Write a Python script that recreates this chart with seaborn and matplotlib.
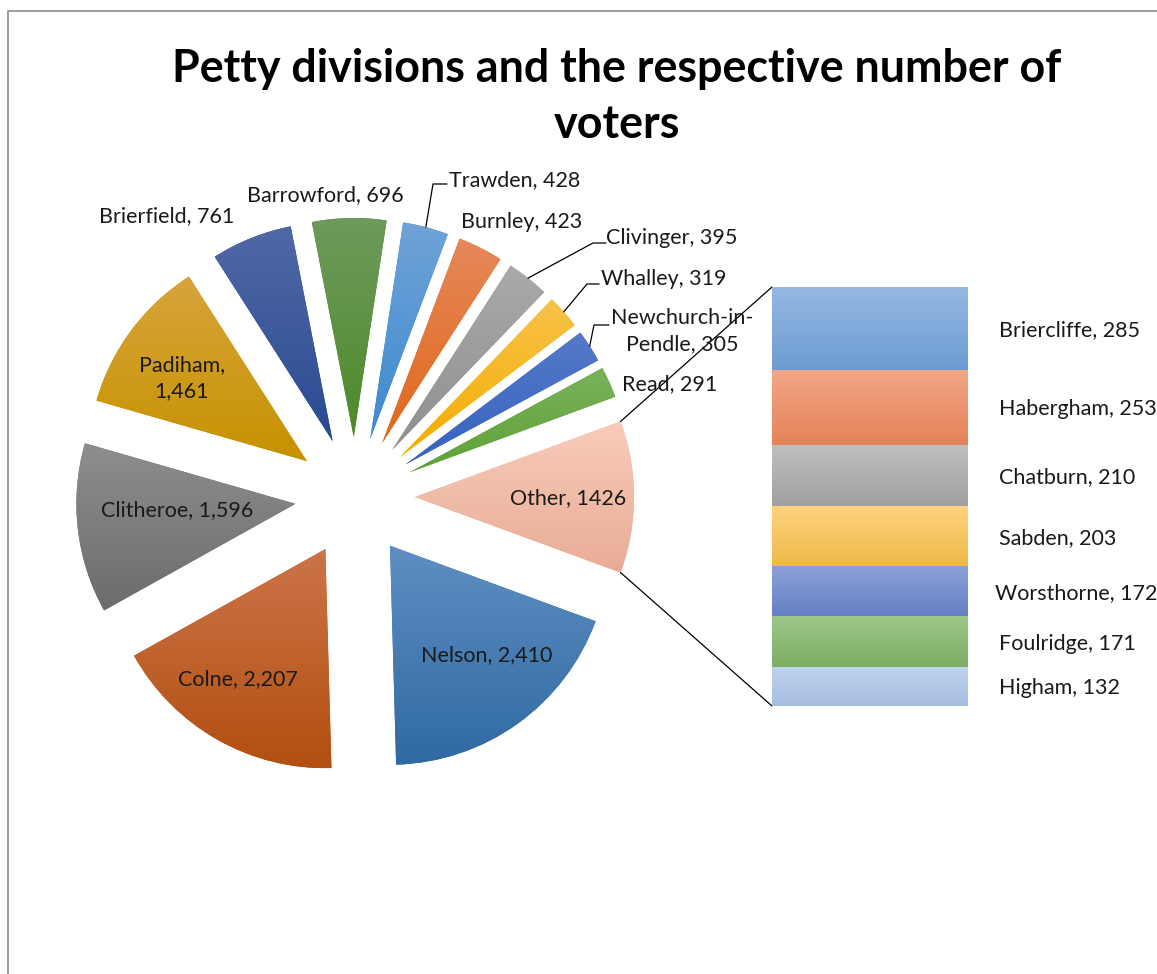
import numpy as np
import matplotlib
matplotlib.use("Agg")
import matplotlib.pyplot as plt
import seaborn as sns
from matplotlib.colors import LinearSegmentedColormap
from matplotlib.transforms import blended_transform_factory

# ---------------- data ----------------
title = "Petty divisions and the respective number of\nvoters"
pie_names = ["Nelson", "Colne", "Clitheroe", "Padiham", "Brierfield", "Barrowford",
             "Trawden", "Burnley", "Clivinger", "Whalley", "Newchurch-in-Pendle",
             "Read", "Other"]
pie_values = [2410, 2207, 1596, 1461, 761, 696, 428, 423, 395, 319, 305, 291, 1426]
bar_names = ["Briercliffe", "Habergham", "Chatburn", "Sabden", "Worsthorne",
             "Foulridge", "Higham"]
bar_values = [285, 253, 210, 203, 172, 171, 132]

# ---------------- styles ----------------
pie_colors = [  # (top, bottom) of the gradient
    ("#5f8fc2", "#2f69a3"), ("#cc7449", "#b24f10"), ("#8e8e8e", "#6c6c6c"),
    ("#d7a43c", "#c79200"), ("#5168a6", "#294b92"), ("#6e9a5c", "#4d8a29"),
    ("#70a3d7", "#3d89cf"), ("#e6885a", "#e0681a"), ("#aaaaaa", "#8f8f8f"),
    ("#f8c24a", "#f4ae00"), ("#5579c8", "#3663bf"), ("#7ab25c", "#5ea235"),
    ("#f8ccba", "#e8ac96"),
]
bar_colors = [
    ("#96b8e3", "#6c9bd1"), ("#f3a686", "#e5835a"), ("#bfbfbf", "#9f9f9f"),
    ("#ffd37f", "#edb948"), ("#8ba1d9", "#6480c3"), ("#9dc78a", "#7cad62"),
    ("#bed3ee", "#a5bddf"),
]

W, H = 1157, 974


def P(x, y):
    """pixel (from top-left) -> main-axes data coordinates"""
    return x, H - y


def fmt_label(name, val):
    if name == "Other":
        return f"{name}, {val}"
    return f"{name}, {val:,}"


wrap = {"Padiham": "Padiham,\n1,461", "Newchurch-in-Pendle": "Newchurch-in-\nPendle, 305"}

label_pos = {  # pixel centres of the data labels
    "Nelson": (487, 655), "Colne": (238, 679), "Clitheroe": (177, 510),
    "Padiham": (182, 378), "Brierfield": (167, 216), "Barrowford": (325, 195),
    "Trawden": (515, 180), "Burnley": (522, 222), "Clivinger": (672, 238),
    "Whalley": (664, 279), "Newchurch-in-Pendle": (682, 331), "Read": (670, 384),
    "Other": (568, 498),
}
leaders = {  # elbow start, elbow end (pixel)
    "Trawden": ((433, 184), (447, 184)),
    "Clivinger": ((593, 243), (606, 243)),
    "Whalley": ((587, 284), (599, 284)),
    "Newchurch-in-Pendle": ((594, 325), (609, 325)),
}

sns.set_theme(style="white")
plt.rcParams["font.family"] = ["Lato", "DejaVu Sans"]

fig = plt.figure(figsize=(W / 100, H / 100), dpi=100)
fig.patch.set_facecolor("white")
ax = fig.add_axes([0, 0, 1, 1])


def gradient_cmap(top, bottom):
    return LinearSegmentedColormap.from_list("g", [bottom, top])


grad = np.linspace(1, 0, 256).reshape(-1, 1)

# ---------------- pie ----------------
total = sum(pie_values)
start = -360 * pie_values[-1] / total / 2
R = 219
cx, cy = P(355, 497)
wedges, _ = ax.pie(pie_values, startangle=start, counterclock=False,
                   center=(cx, cy), radius=R, explode=[60] * len(pie_values),
                   frame=True, wedgeprops=dict(linewidth=0))
for w, (top, bot) in zip(wedges, pie_colors):
    w.set_facecolor(bot)
    bb = w.get_path().get_extents()
    im = ax.imshow(grad, cmap=gradient_cmap(top, bot), extent=[bb.x0, bb.x1, bb.y0, bb.y1],
                   aspect="auto", origin="upper", zorder=2, interpolation="bilinear")
    im.set_clip_path(w)

for name, val, w in zip(pie_names, pie_values, wedges):
    txt = wrap.get(name, fmt_label(name, val))
    x, y = P(*label_pos[name])
    ax.text(x, y, txt, ha="center", va="center", fontsize=15.5, color="#1a1a1a",
            linespacing=1.38, zorder=5)
    if name in leaders:
        mid = np.deg2rad((w.theta1 + w.theta2) / 2)
        px = w.center[0] + w.r * np.cos(mid)
        py = w.center[1] + w.r * np.sin(mid)
        (ex, ey), (tx, ty) = leaders[name]
        ex, ey = P(ex, ey)
        tx, ty = P(tx, ty)
        ax.plot([px, ex, tx], [py, ey, ty], color="black", lw=0.9, zorder=4)

# ---------------- bar of pie ----------------
bx0, bx1, by_top, by_bot = 772, 968, 287, 706
ax2 = fig.add_axes([bx0 / W, (H - by_bot) / H, (bx1 - bx0) / W, (by_bot - by_top) / H])
other_total = sum(bar_values)
bottoms = other_total - np.cumsum(bar_values)
bars = ax2.bar([0] * len(bar_values), bar_values, bottom=bottoms, width=1.0, linewidth=0)
for b, (top, bot) in zip(bars, bar_colors):
    b.set_facecolor(bot)
    y0, h = b.get_y(), b.get_height()
    ax2.imshow(grad, cmap=gradient_cmap(top, bot), extent=[-0.5, 0.5, y0, y0 + h],
               aspect="auto", origin="upper", zorder=2, interpolation="bilinear")
ax2.set_xlim(-0.5, 0.5)
ax2.set_ylim(0, other_total)
ax2.axis("off")
tr = blended_transform_factory(ax2.transAxes, ax2.transData)
for name, val, b in zip(bar_names, bar_values, bars):
    ym = b.get_y() + b.get_height() / 2 - 5
    xl = 995 if name == "Worsthorne" else 999
    ax2.text((xl - bx0) / (bx1 - bx0), ym, fmt_label(name, val), transform=tr,
             ha="left", va="center", fontsize=15.5, color="#1a1a1a", clip_on=False)

# connector lines between the "Other" slice and the bar
wo = wedges[-1]
for ang, by in ((wo.theta2, by_top), (wo.theta1, by_bot)):
    a = np.deg2rad(ang)
    px = wo.center[0] + wo.r * np.cos(a)
    py = wo.center[1] + wo.r * np.sin(a)
    qx, qy = P(bx0, by)
    ax.plot([px, qx], [py, qy], color="black", lw=0.9, zorder=4)

# title
ax.text(*P(617, 97), title, ha="center", va="center", fontsize=32.3, fontweight="bold",
        color="black", linespacing=1.42)

# chart-area border
ax.plot([8, 8, W + 5], [-5, H - 11, H - 11], color="#8c8c8c", lw=1.2, zorder=6)

ax.set_xlim(0, W)
ax.set_ylim(0, H)
ax.set_aspect("auto")
ax.axis("off")

fig.savefig("out.png", dpi=100, facecolor="white")
